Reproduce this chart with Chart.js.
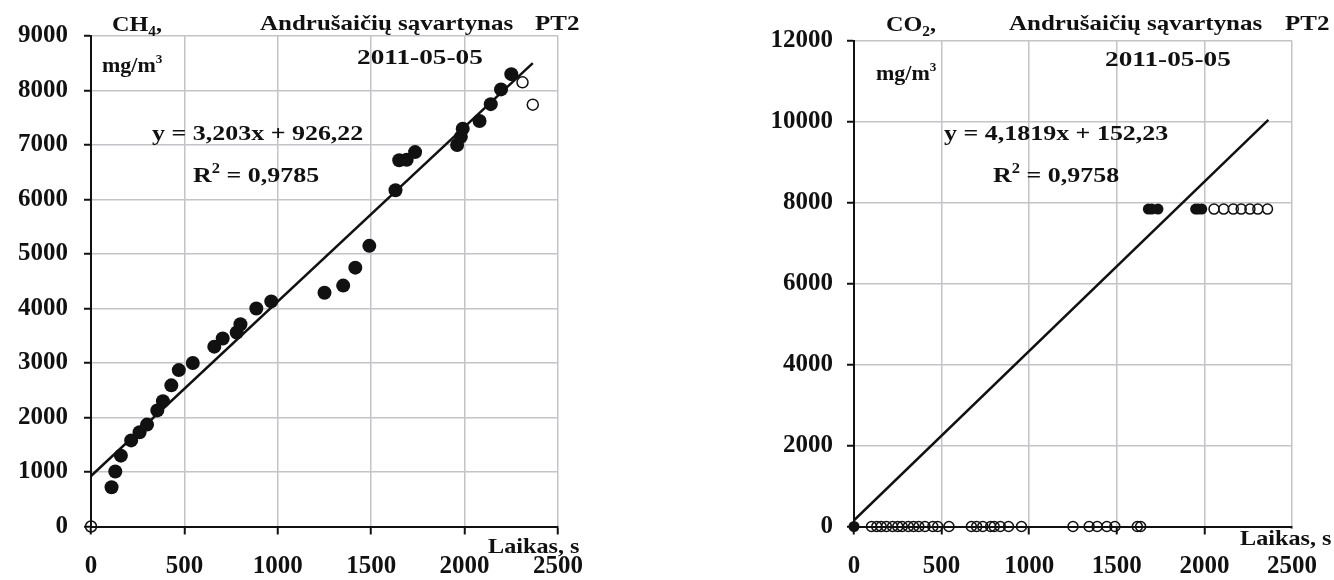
<!DOCTYPE html>
<html>
<head>
<meta charset="utf-8">
<script src="https://cdn.jsdelivr.net/npm/chart.js@4.4.1/dist/chart.umd.min.js"></script>
<style>
  body { margin: 0; background: #fff; width: 1334px; height: 580px; overflow: hidden; position: relative; }
  .box { position: absolute; top: 0; height: 580px; }
  #b1 { left: 0; width: 600px; }
  #b2 { left: 667px; width: 667px; }
</style>
</head>
<body>
<div class="box" id="b1"><canvas id="ch4Chart" width="600" height="580"></canvas></div>
<div class="box" id="b2"><canvas id="co2Chart" width="667" height="580"></canvas></div>
<script>
// CH4 - matuoti taskai (laikas, s ; mg/m3)
const ch4Laikas = [110, 130, 160, 215, 260, 300, 355, 385, 430, 470, 545, 660, 705, 780, 800, 885, 965,
                   1250, 1350, 1415, 1490, 1630, 1650, 1690, 1735, 1960, 1980, 1990, 2080, 2140, 2195, 2250];
const ch4Reiksmes = [720, 1010, 1300, 1580, 1730, 1870, 2130, 2300, 2590, 2870, 3000, 3300, 3450, 3560, 3710, 4000, 4130,
                     4290, 4420, 4750, 5150, 6170, 6720, 6730, 6870, 7000, 7150, 7300, 7440, 7750, 8020, 8300];
// CH4 - neitraukti i regresija
const ch4AtmestiLaikas = [0, 2310, 2365];
const ch4AtmestiReiksmes = [0, 8150, 7740];
const ch4Trendas = { a: 3.203, b: 926.22, xMax: 2365 };

// CO2 - matuoti taskai
const co2Laikas = [0, 1680, 1700, 1735, 1950, 1965, 1985];
const co2Reiksmes = [0, 7840, 7840, 7840, 7840, 7840, 7840];
const co2AtmestiLaikas = [100, 130, 155, 185, 220, 250, 275, 310, 340, 370, 405, 450, 478, 542, 670, 700, 735, 780, 800, 835,
                          882, 956, 1250, 1342, 1388, 1443, 1489, 1617, 1636,
                          2055, 2110, 2165, 2210, 2260, 2305, 2360];
const co2AtmestiReiksmes = [0, 0, 0, 0, 0, 0, 0, 0, 0, 0, 0, 0, 0, 0, 0, 0, 0, 0, 0, 0,
                            0, 0, 0, 0, 0, 0, 0, 0, 0,
                            7840, 7840, 7840, 7840, 7840, 7840, 7840];
const co2Trendas = { a: 4.1819, b: 152.23, xMax: 2365 };

const serif = '"Liberation Serif", "Times New Roman", serif';
Chart.defaults.font.family = serif;
Chart.defaults.font.weight = 'bold';
Chart.defaults.color = '#111';

const taskai = (xs, ys) => xs.map((x, i) => ({ x: x, y: ys[i] }));
const trendas = t => [{ x: 0, y: t.b }, { x: t.xMax, y: t.a * t.xMax + t.b }];

// teksto uzrasai (istempti horizontaliai kaip originale)
const tekstai = {
  id: 'tekstai',
  afterDraw(chart, args, opts) {
    const ctx = chart.ctx;
    ctx.save();
    ctx.textBaseline = 'alphabetic';
    opts.items.forEach(it => {
      const size = it.size || 22;
      const sx = it.sx || 1.18;
      let w = 0;
      it.parts.forEach(p => {
        const s = (p.sub || p.sup) ? Math.round(size * 0.62) : size;
        ctx.font = 'bold ' + s + 'px ' + serif;
        w += ctx.measureText(p.t).width * sx;
      });
      if (it.bg) {
        ctx.fillStyle = '#fff';
        ctx.fillRect(it.x - 2, it.y - size * 0.75, w + 4, size * 0.8);
      }
      ctx.fillStyle = '#111';
      let x = it.x;
      it.parts.forEach(p => {
        const s = (p.sub || p.sup) ? Math.round(size * 0.62) : size;
        ctx.font = 'bold ' + s + 'px ' + serif;
        const dy = p.sub ? 5 : p.sup ? -9 : 0;
        ctx.save();
        ctx.translate(x, it.y + dy);
        ctx.scale(sx, 1);
        ctx.fillText(p.t, 0, 0);
        ctx.restore();
        x += ctx.measureText(p.t).width * sx;
      });
    });
    ctx.restore();
  }
};

function asys(min, max, step, fitFn, tickPad, tickLen) {
  return {
    type: 'linear',
    min: min,
    max: max,
    ticks: {
      stepSize: step,
      padding: tickPad,
      color: '#111',
      font: { size: 25, weight: 'bold' },
      maxRotation: 0,
      callback: v => String(v)
    },
    grid: { color: '#c4c4c8', lineWidth: 1.5, tickLength: tickLen, tickColor: '#111', tickWidth: 2 },
    border: { color: '#111', width: 2 },
    afterFit: fitFn
  };
}

function grafikas(id, pilni, atmesti, trend, pts, ymax, ystep, yWidth, pad, rPilnas, rTuscias, uzrasai) {
  new Chart(document.getElementById(id).getContext('2d'), {
    type: 'scatter',
    data: {
      datasets: [
        {
          type: 'line',
          data: trend,
          borderColor: '#111',
          borderWidth: 2.5,
          pointRadius: 0,
          fill: false,
          order: 3
        },
        {
          data: pilni,
          backgroundColor: '#111',
          borderColor: '#111',
          pointRadius: rPilnas,
          borderWidth: 0,
          clip: false,
          order: 2
        },
        {
          data: atmesti,
          backgroundColor: 'rgba(0,0,0,0)',
          borderColor: '#111',
          pointRadius: rTuscias,
          borderWidth: 1.5,
          clip: false,
          order: 1
        }
      ]
    },
    options: {
      responsive: false,
      animation: false,
      devicePixelRatio: 1,
      layout: { padding: pad },
      plugins: {
        legend: { display: false },
        tooltip: { enabled: false },
        tekstai: { items: uzrasai }
      },
      scales: {
        x: asys(0, 2500, 500, s => { s.height = 53.5; }, 17, 8),
        y: asys(0, ymax, ystep, s => { s.width = yWidth; }, pts, 7)
      }
    },
    plugins: [tekstai]
  });
}

grafikas('ch4Chart',
  taskai(ch4Laikas, ch4Reiksmes),
  taskai(ch4AtmestiLaikas, ch4AtmestiReiksmes),
  trendas(ch4Trendas),
  16, 9000, 1000, 91, { top: 36, right: 41, left: 0, bottom: 0 }, 7, 5.5,
  [
    { x: 112, y: 31, sx: 1.1, parts: [{ t: 'CH' }, { t: '4', sub: true }, { t: ',' }] },
    { x: 102, y: 72, size: 20, sx: 1.1, parts: [{ t: 'mg/m' }, { t: '3', sup: true }] },
    { x: 260, y: 30, sx: 1.135, parts: [{ t: 'Andrušaičių sąvartynas' }] },
    { x: 535, y: 30, sx: 1.135, parts: [{ t: 'PT2' }] },
    { x: 357, y: 64, sx: 1.24, parts: [{ t: '2011-05-05' }] },
    { x: 152, y: 140, parts: [{ t: 'y = 3,203x + 926,22' }] },
    { x: 193, y: 182, parts: [{ t: 'R' }, { t: '2', sup: true }, { t: ' = 0,9785' }] },
    { x: 488, y: 553, sx: 1.1, parts: [{ t: 'Laikas, s' }] }
  ]);

grafikas('co2Chart',
  taskai(co2Laikas, co2Reiksmes),
  taskai(co2AtmestiLaikas, co2AtmestiReiksmes),
  trendas(co2Trendas),
  14, 12000, 2000, 187, { top: 40.7, right: 27, left: 0, bottom: 0 }, 5.5, 5,
  [
    { x: 886 - 667, y: 31, sx: 1.1, parts: [{ t: 'CO' }, { t: '2', sub: true }, { t: ',' }] },
    { x: 876 - 667, y: 80, size: 20, sx: 1.1, parts: [{ t: 'mg/m' }, { t: '3', sup: true }] },
    { x: 1009 - 667, y: 30, sx: 1.135, parts: [{ t: 'Andrušaičių sąvartynas' }] },
    { x: 1285 - 667, y: 30, sx: 1.135, parts: [{ t: 'PT2' }] },
    { x: 1105 - 667, y: 66, sx: 1.24, parts: [{ t: '2011-05-05' }] },
    { x: 944 - 667, y: 140, parts: [{ t: 'y = 4,1819x + 152,23' }] },
    { x: 993 - 667, y: 182, parts: [{ t: 'R' }, { t: '2', sup: true }, { t: ' = 0,9758' }] },
    { x: 1240 - 667, y: 545, bg: true, sx: 1.1, parts: [{ t: 'Laikas, s' }] }
  ]);
</script>
</body>
</html>
